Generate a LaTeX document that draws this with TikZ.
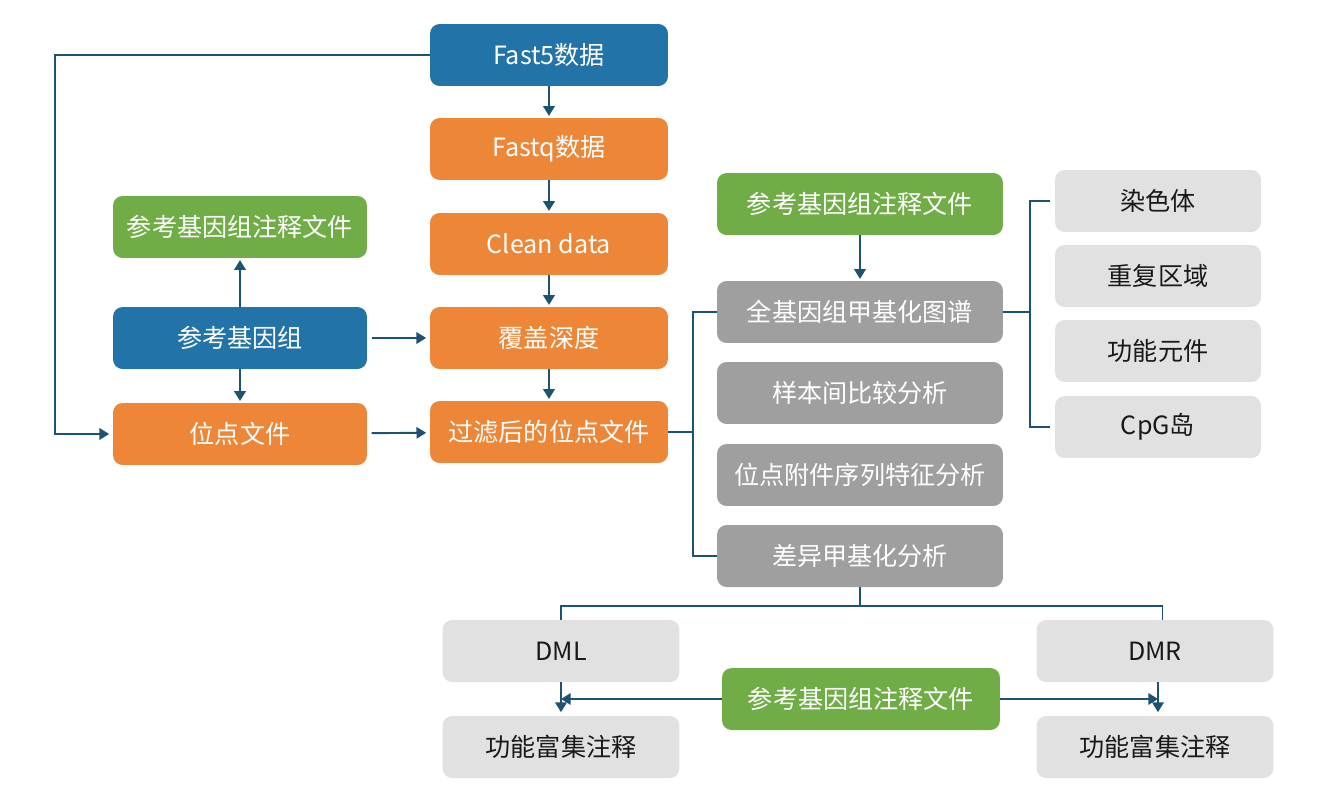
\documentclass[tikz,border=0pt]{standalone}
\usepackage{fontspec}
\setmainfont{Noto Sans CJK SC}
\usepackage{tikz}
\usetikzlibrary{arrows.meta}
\definecolor{fblue}{HTML}{2273A8}
\definecolor{forange}{HTML}{EE8638}
\definecolor{fgreen}{HTML}{70AD47}
\definecolor{fgray}{HTML}{9F9F9F}
\definecolor{flight}{HTML}{E1E1E1}
\definecolor{fline}{HTML}{1B5373}

\begin{document}
\begin{tikzpicture}[
  x=0.02cm, y=-0.02cm,
  box/.style={
    rounded corners=5.5pt, minimum height=1.24cm, inner sep=0pt,
    text=white, font=\fontsize{14.3}{17}\selectfont
  },
  bluebox/.style={box, fill=fblue, minimum width=#1},
  orabox/.style={box, fill=forange, minimum width=#1},
  grnbox/.style={box, fill=fgreen, minimum width=#1},
  grybox/.style={box, fill=fgray, minimum width=5.72cm},
  lbox/.style={box, fill=flight, text=black!90, minimum width=#1},
  link/.style={draw=fline, line width=1.1pt},
  arr/.style={link, -{Triangle[length=5.5pt,width=6.5pt]}}
]
  \useasboundingbox (0,0) rectangle (1340,805);

  % middle column
  \node[bluebox=4.76cm] (fast5) at (549,55) {Fast5数据};
  \node[orabox=4.76cm] (fastq) at (549,149) {Fastq数据};
  \node[orabox=4.76cm] (clean) at (549,244) {Clean data};
  \node[orabox=4.76cm] (depth) at (549,338) {覆盖深度};
  \node[orabox=4.76cm] (filt) at (549,432) {过滤后的位点文件};

  % left column
  \node[grnbox=5.08cm] (annoL) at (240,227) {参考基因组注释文件};
  \node[bluebox=5.08cm] (refg) at (240,338) {参考基因组};
  \node[orabox=5.08cm] (sites) at (240,434) {位点文件};

  % analyses
  \node[grnbox=5.72cm] (annoM) at (860,204) {参考基因组注释文件};
  \node[grybox] (wgm) at (860,312) {全基因组甲基化图谱};
  \node[grybox] (cmp) at (860,393) {样本间比较分析};
  \node[grybox] (seqf) at (860,475) {位点附件序列特征分析};
  \node[grybox] (diff) at (860,556) {差异甲基化分析};

  \foreach \y/\n/\t in {201/chr/染色体, 276/rep/重复区域, 351/func/功能元件, 427/cpg/CpG岛} {
    \node[lbox=4.12cm] (\n) at (1158,\y) {\t};
  }

  % bottom
  \node[lbox=4.74cm] (dml) at (561,651) {DML};
  \node[lbox=4.74cm] (dmr) at (1155,651) {DMR};
  \node[lbox=4.74cm] (enrL) at (561,747) {功能富集注释};
  \node[lbox=4.74cm] (enrR) at (1155,747) {功能富集注释};
  \node[grnbox=5.56cm] (annoB) at (861,699) {参考基因组注释文件};

  \coordinate (jF) at (55,55);
  \coordinate (jL) at (693,432);
  \coordinate (jR) at (1030,312);
  \coordinate (jB) at (860,606);

  \draw[arr, shorten >=1pt] (fast5) -- (fastq);
  \draw[arr, shorten >=1pt] (fastq) -- (clean);
  \draw[arr, shorten >=1pt] (clean) -- (depth);
  \draw[arr, shorten >=1pt] (depth) -- (filt);
  \draw[arr, shorten >=1pt] (refg) -- (annoL);
  \draw[arr, shorten >=1pt] (refg) -- (sites);
  \draw[arr, shorten <=2.5pt, shorten >=2pt] (refg) -- (depth);
  \draw[arr, shorten <=2.5pt, shorten >=2pt] (sites) -- (filt);
  \draw[arr, shorten >=2pt] (fast5.west) -- (jF) |- (sites.west);

  \draw[link] (filt.east) -- (jL);
  \draw[link] (wgm.west) -| (jL) |- (diff.west);
  \draw[arr, shorten >=1pt] (annoM) -- (wgm);
  \draw[link] (wgm.east) -- (jR);
  \draw[link, shorten <=2.5pt, shorten >=2.5pt] (chr.west) -| (jR) |- (cpg.west);

  \draw[link] (diff.south) -- (jB);
  \draw[link] (dml.north) |- (jB) -| ([xshift=0.15cm]dmr.north);
  \draw[arr, shorten >=2pt] (dml) -- (enrL);
  \draw[arr, shorten >=2pt] ([xshift=0.06cm]dmr.south) -- ([xshift=0.06cm]enrR.north);
  \draw[arr] (annoB.west) -- (annoB.west -| dml.south);
  \draw[arr] (annoB.east) -- ([xshift=0.06cm]annoB.east -| dmr.south);
\end{tikzpicture}
\end{document}
